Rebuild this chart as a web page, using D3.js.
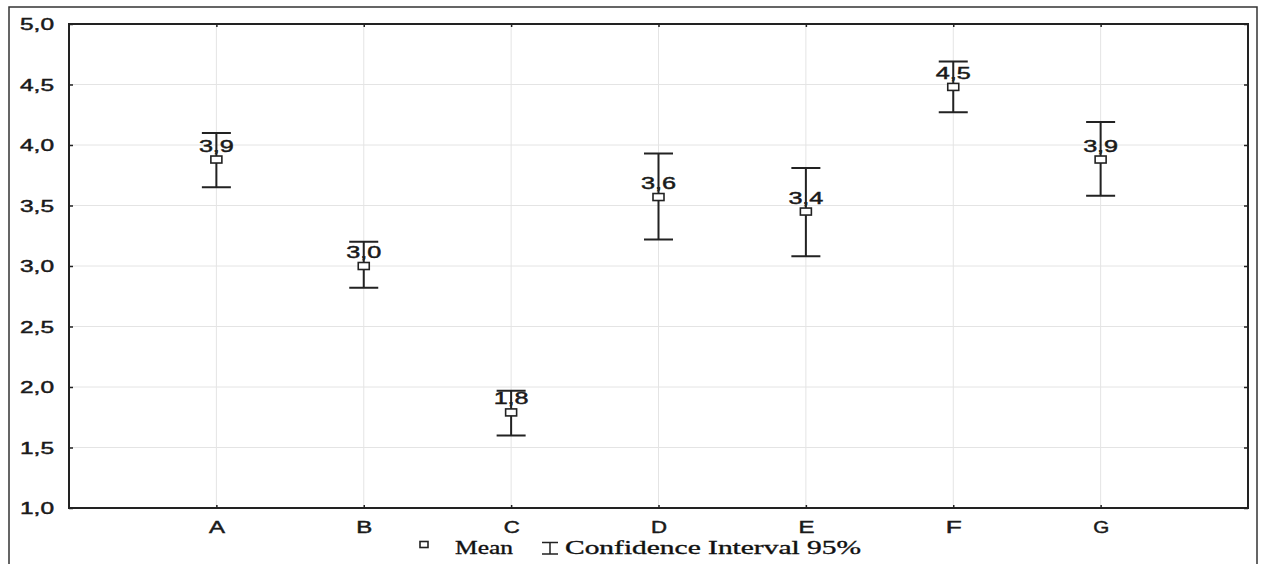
<!DOCTYPE html>
<html><head><meta charset="utf-8">
<script src="https://cdn.jsdelivr.net/npm/d3@7"></script>
<style>
html,body{margin:0;padding:0;background:#fff;}
svg{display:block;}
</style></head>
<body>
<svg id="chart" width="1262" height="564"></svg>
<script>
const categories = ["A","B","C","D","E","F","G"];
const means  = [3.88, 3.00, 1.79, 3.57, 3.45, 4.48, 3.88];
const ciLow  = [3.65, 2.82, 1.60, 3.22, 3.08, 4.27, 3.58];
const ciHigh = [4.10, 3.20, 1.97, 3.93, 3.81, 4.69, 4.19];
const valueLabels = ["3,9","3,0","1,8","3,6","3,4","4,5","3,9"];
const yTicks = [1.0, 1.5, 2.0, 2.5, 3.0, 3.5, 4.0, 4.5, 5.0];
const legendItems = ["Mean", "Confidence Interval 95%"];

const svg = d3.select("#chart");
const L = 69, R = 1248, T = 24, B = 508;
const ink = "#222";
const sans = "'Liberation Sans', Arial, sans-serif";
const serif = "'Liberation Serif', 'Times New Roman', serif";

const x = d3.scalePoint().domain(categories).range([L, R]).padding(1);
const y = d3.scaleLinear().domain([1, 5]).range([B, T]);
const fmt = v => d3.format(".1f")(v).replace(".", ",");

const data = categories.map((c, i) => ({c, m: means[i], lo: ciLow[i], hi: ciHigh[i], lab: valueLabels[i]}));

// outer frame
svg.append("path").attr("d", "M9,570 V7 H1257 V570")
  .attr("fill", "none").attr("stroke", "#333").attr("stroke-width", 1.5);

// grid
svg.append("g").selectAll("line").data(yTicks.slice(1, -1)).join("line")
  .attr("x1", L).attr("x2", R).attr("y1", d => y(d)).attr("y2", d => y(d))
  .attr("stroke", "#e4e4e4").attr("stroke-width", 1);
svg.append("g").selectAll("line").data(categories).join("line")
  .attr("x1", d => x(d)).attr("x2", d => x(d)).attr("y1", T).attr("y2", B)
  .attr("stroke", "#e4e4e4").attr("stroke-width", 1);

// axes
const yAxis = svg.append("g").attr("transform", `translate(${L},0)`)
  .call(d3.axisLeft(y).tickValues(yTicks).tickFormat(fmt).tickSize(-4).tickPadding(15));
const yAxisR = svg.append("g").attr("transform", `translate(${R},0)`)
  .call(d3.axisRight(y).tickValues(yTicks).tickFormat("").tickSize(-4));
const xAxis = svg.append("g").attr("transform", `translate(0,${B})`)
  .call(d3.axisBottom(x).tickSize(-3).tickPadding(14));
const xAxisT = svg.append("g").attr("transform", `translate(0,${T})`)
  .call(d3.axisTop(x).tickSize(-3).tickFormat(""));

[yAxis, yAxisR, xAxis, xAxisT].forEach(g => {
  g.select(".domain").remove();
  g.selectAll(".tick line").attr("stroke", ink).attr("stroke-width", 1.5);
});
yAxis.selectAll("text").attr("font-family", sans).attr("font-size", 16).attr("fill", "#1a1a1a")
  .attr("stroke", "#1a1a1a").attr("stroke-width", 0.45)
  .attr("textLength", 34).attr("lengthAdjust", "spacingAndGlyphs").attr("dy", "0.36em");
xAxis.selectAll("text").attr("font-family", sans).attr("font-size", 16).attr("fill", "#1a1a1a")
  .attr("stroke", "#1a1a1a").attr("stroke-width", 0.45)
  .attr("textLength", 16).attr("lengthAdjust", "spacingAndGlyphs").attr("dy", "0.71em");

// plot frame
svg.append("rect").attr("x", L).attr("y", T).attr("width", R - L).attr("height", B - T)
  .attr("fill", "none").attr("stroke", ink).attr("stroke-width", 2);

// value labels
svg.append("g").selectAll("text").data(data).join("text")
  .attr("x", d => x(d.c)).attr("y", d => y(d.m) - 8)
  .attr("text-anchor", "middle").attr("font-family", sans).attr("font-size", 16)
  .attr("fill", "#1a1a1a").attr("stroke", "#1a1a1a").attr("stroke-width", 0.45)
  .attr("textLength", 35).attr("lengthAdjust", "spacingAndGlyphs")
  .text(d => d.lab);

// error bars
const eb = svg.append("g").attr("stroke", ink).attr("stroke-width", 2).attr("fill", "none");
eb.selectAll("path").data(data).join("path")
  .attr("d", d => {
    const cx = x(d.c), w = 14.5;
    return `M${cx - w},${y(d.hi)} H${cx + w} M${cx},${y(d.hi)} V${y(d.lo)} M${cx - w},${y(d.lo)} H${cx + w}`;
  });

// mean markers
svg.append("g").selectAll("rect").data(data).join("rect")
  .attr("x", d => x(d.c) - 5.5).attr("y", d => y(d.m) - 3.5)
  .attr("width", 11).attr("height", 7)
  .attr("fill", "#fff").attr("stroke", ink).attr("stroke-width", 1.6);

// legend
const lg = svg.append("g");
lg.append("rect").attr("x", 420).attr("y", 541.5).attr("width", 8).attr("height", 6)
  .attr("fill", "#fff").attr("stroke", ink).attr("stroke-width", 1.6);
lg.append("text").attr("x", 455).attr("y", 554).attr("font-family", serif).attr("font-size", 18.5)
  .attr("fill", "#111").attr("stroke", "#111").attr("stroke-width", 0.35)
  .attr("textLength", 58).attr("lengthAdjust", "spacingAndGlyphs").text(legendItems[0]);
lg.append("path").attr("d", "M542,542.5 H558 M550,542.5 V554 M542,554 H558")
  .attr("stroke", ink).attr("stroke-width", 1.5).attr("fill", "none");
lg.append("text").attr("x", 565).attr("y", 554).attr("font-family", serif).attr("font-size", 18.5)
  .attr("fill", "#111").attr("stroke", "#111").attr("stroke-width", 0.35)
  .attr("textLength", 296).attr("lengthAdjust", "spacingAndGlyphs").text(legendItems[1]);
</script>
</body></html>
